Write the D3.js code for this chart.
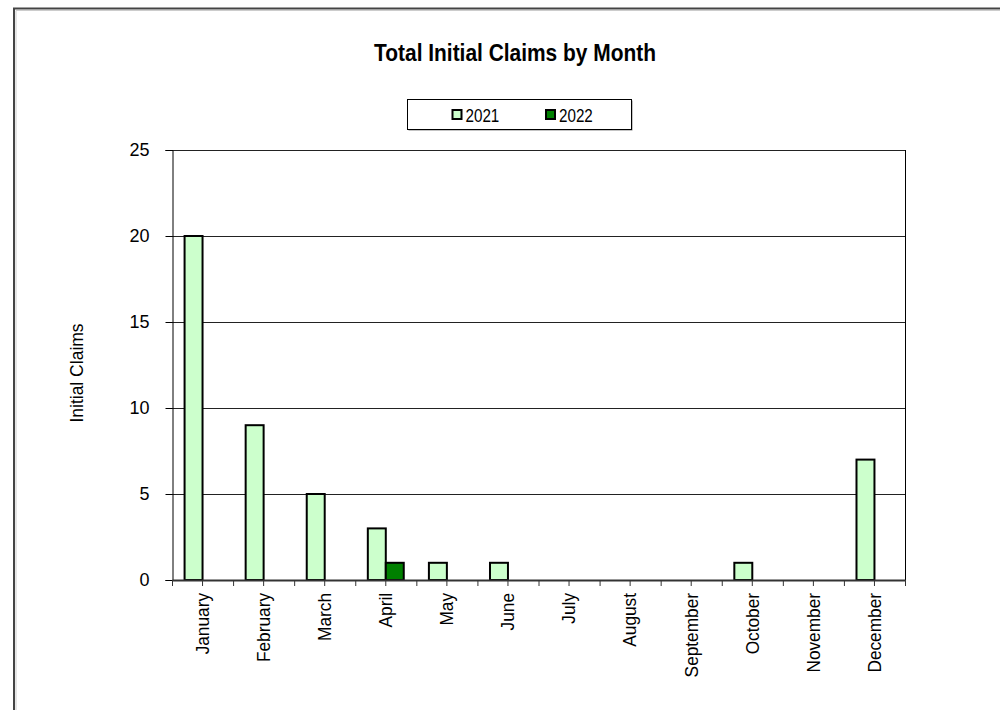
<!DOCTYPE html>
<html lang="en">
  <head>
    <meta charset="UTF-8" />
    <title>Total Initial Claims by Month</title>
    <script src="https://d3js.org/d3.v7.min.js"></script>
    <style>
      body {
        margin: 0;
        background: #fff;
      }
      svg {
        display: block;
        font-family: "Liberation Sans", Arial, sans-serif;
      }
    </style>
  </head>
  <body>
    <svg id="chart" width="1000" height="710"></svg>

    <script>
      // data
      const months = ["January", "February", "March", "April", "May", "June",
        "July", "August", "September", "October", "November", "December"];
      const series = ["2021", "2022"];
      const claims2021 = [20, 9, 5, 3, 1, 1, 0, 0, 0, 1, 0, 7];
      const claims2022 = [0, 0, 0, 1, 0, 0, 0, 0, 0, 0, 0, 0];
      const yTicks = [0, 5, 10, 15, 20, 25];
      const colors = ["#ccffcc", "#008000"];

      const plot = { left: 172, right: 905, top: 150, bottom: 580 };

      const svg = d3.select("#chart");

      // outer frame (only top and left edges are in view)
      svg.append("path")
        .attr("d", "M14,712V8.5H1002")
        .attr("fill", "none")
        .attr("stroke", "#444")
        .attr("stroke-width", 2);
      svg.append("path")
        .attr("d", "M16,712V10.5H1002")
        .attr("fill", "none")
        .attr("stroke", "#ccc")
        .attr("stroke-width", 1);

      // scales
      const x = d3.scaleBand()
        .domain(months)
        .range([plot.left, plot.right])
        .padding(0);

      const xs = d3.scaleBand()
        .domain(series)
        .range([0, x.bandwidth()])
        .paddingInner(0)
        .paddingOuter(0.7);

      const y = d3.scaleLinear()
        .domain([0, 25])
        .range([plot.bottom, plot.top]);

      // gridlines
      svg.append("g")
        .selectAll("line")
        .data(yTicks.filter((d) => d > 0))
        .join("line")
        .attr("x1", plot.left)
        .attr("x2", plot.right)
        .attr("y1", (d) => Math.round(y(d)) + 0.5)
        .attr("y2", (d) => Math.round(y(d)) + 0.5)
        .attr("stroke", "#222")
        .attr("stroke-width", 1);

      // right border of plot area
      svg.append("line")
        .attr("x1", plot.right + 0.5)
        .attr("x2", plot.right + 0.5)
        .attr("y1", plot.top)
        .attr("y2", plot.bottom)
        .attr("stroke", "#000");

      // bars
      const rows = months.map((m, i) => ({
        month: m,
        values: [
          { key: series[0], value: claims2021[i] },
          { key: series[1], value: claims2022[i] },
        ],
      }));

      svg.append("g")
        .selectAll("g")
        .data(rows)
        .join("g")
        .attr("transform", (d) => `translate(${x(d.month)},0)`)
        .selectAll("rect")
        .data((d) => d.values.filter((v) => v.value > 0))
        .join("rect")
        .attr("x", (d) => xs(d.key))
        .attr("y", (d) => y(d.value))
        .attr("width", xs.bandwidth())
        .attr("height", (d) => y(0) - y(d.value))
        .attr("fill", (d) => colors[series.indexOf(d.key)])
        .attr("stroke", "#000")
        .attr("stroke-width", 2);

      // y axis
      const yAxis = svg.append("g")
        .attr("transform", `translate(${plot.left + 0.5},0)`)
        .call(d3.axisLeft(y).tickValues(yTicks).tickSize(7).tickPadding(16));
      yAxis.select(".domain").attr("stroke", "#000");
      yAxis.selectAll("text")
        .attr("font-size", 18)
        .attr("font-family", "Liberation Sans, Arial, sans-serif")
        .attr("fill", "#000");

      // x axis: ticks at band centres with labels, plus ticks at band edges
      const xAxis = svg.append("g")
        .attr("transform", `translate(0,${plot.bottom})`)
        .call(d3.axisBottom(x).tickSize(6).tickSizeOuter(0));
      xAxis.select(".domain").attr("stroke", "#333").attr("stroke-width", 2);
      xAxis.selectAll(".tick line").attr("stroke", "#333");
      xAxis.selectAll("text")
        .attr("font-size", 18)
        .attr("font-family", "Liberation Sans, Arial, sans-serif")
        .attr("fill", "#000")
        .attr("text-anchor", "end")
        .attr("transform", "rotate(-90) scale(0.96,1)")
        .attr("x", -13.5)
        .attr("y", 0)
        .attr("dy", "0.35em");

      svg.append("g")
        .selectAll("line")
        .data(months.concat(["end"]))
        .join("line")
        .attr("x1", (d) => (d === "end" ? plot.right : x(d)) + 0.5)
        .attr("x2", (d) => (d === "end" ? plot.right : x(d)) + 0.5)
        .attr("y1", plot.bottom)
        .attr("y2", plot.bottom + 6)
        .attr("stroke", "#333");

      // y label
      svg.append("text")
        .attr("transform", "translate(77,373) rotate(-90)")
        .attr("text-anchor", "middle")
        .attr("dy", "0.35em")
        .attr("font-size", 17.5)
        .text("Initial Claims");

      // title
      svg.append("text")
        .attr("transform", "translate(515,61) scale(0.91,1)")
        .attr("text-anchor", "middle")
        .attr("font-size", 23)
        .attr("font-weight", "bold")
        .text("Total Initial Claims by Month");

      // legend
      const legend = svg.append("g").attr("transform", "translate(407.5,99.5)");
      legend.append("rect")
        .attr("x", 1)
        .attr("y", 1)
        .attr("width", 224)
        .attr("height", 30)
        .attr("fill", "#888");
      legend.append("rect")
        .attr("width", 224)
        .attr("height", 30)
        .attr("fill", "#fff")
        .attr("stroke", "#000");

      const item = legend.selectAll(".item")
        .data(series)
        .join("g")
        .attr("class", "item")
        .attr("transform", (d, i) => `translate(${45 + i * 93.5},10.5)`);
      item.append("rect")
        .attr("width", 9)
        .attr("height", 9)
        .attr("fill", (d, i) => colors[i])
        .attr("stroke", "#000")
        .attr("stroke-width", 2);
      item.append("text")
        .attr("transform", "translate(13,11.5) scale(0.8,1)")
        .attr("font-size", 19)
        .text((d) => d);
    </script>
  </body>
</html>
